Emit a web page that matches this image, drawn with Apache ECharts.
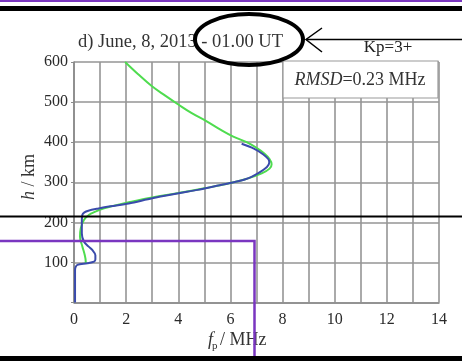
<!DOCTYPE html>
<html>
<head>
<meta charset="utf-8">
<script src="https://cdn.jsdelivr.net/npm/echarts@6/dist/echarts.min.js"></script>
<style>
  html, body { margin: 0; padding: 0; background: #fff; }
  #chart { width: 462px; height: 361px; }
</style>
</head>
<body>
<div id="chart"></div>
<script>
// Plasma frequency profiles: frequency (MHz) versus height (km)
const greenFreq = [1.96, 2.45, 2.98, 3.5, 4.0, 4.5, 5.09, 5.6, 6.11, 6.62, 7.0, 7.3, 7.5, 7.58, 7.5, 7.2, 6.6, 6.0, 5.0, 4.0, 3.0, 2.1, 1.5, 1.15, 0.8, 0.58, 0.38, 0.26, 0.23, 0.32, 0.41, 0.45, 0.44];
const greenHeight = [600, 570, 540, 516, 494, 473, 452, 432, 414, 400, 386, 372, 358, 345, 334, 322, 308, 298, 285, 273, 262, 250, 241, 235, 226, 219, 206, 185, 164, 140, 119, 102, 97];

const blueFreq = [6.43, 6.9, 7.25, 7.45, 7.49, 7.4, 7.07, 6.6, 5.98, 5.4, 4.75, 4.07, 3.0, 2.1, 1.4, 0.9, 0.55, 0.4, 0.32, 0.3, 0.3, 0.38, 0.55, 0.7, 0.82, 0.82, 0.77, 0.51, 0.13, 0.06, 0.04, 0.04];
const blueHeight = [396, 384, 370, 358, 350, 338, 323, 308, 298, 290, 281, 273, 260, 247, 240, 234, 229, 225, 219, 200, 172, 152, 140, 131, 118, 108, 102, 98, 94, 88, 80, 0];

const xTicks = [0, 2, 4, 6, 8, 10, 12, 14];
const yTicks = [100, 200, 300, 400, 500, 600];

const titleText = 'd) June, 8, 2013 - 01.00 UT';
const kpText = 'Kp=3+';
const rmsdValue = '0.23 MHz';

const SERIF = '"Liberation Serif", "DejaVu Serif", serif';
const PURPLE = '#7a36c0';

function pairs(fs, hs) { return fs.map((f, i) => [f, hs[i]]); }

const chart = echarts.init(document.getElementById('chart'), null, { renderer: 'canvas' });

const gridLine = { show: true, lineStyle: { color: '#959595', width: 1.6 } };

chart.setOption({
  backgroundColor: '#ffffff',
  animation: false,
  grid: { left: 74, top: 62, right: 23, bottom: 58.5, containLabel: false },
  xAxis: {
    type: 'value', min: 0, max: 14, interval: 1,
    axisLine: { show: true, lineStyle: { color: '#8a8a8a', width: 1.6 } },
    axisTick: { show: false },
    splitLine: gridLine,
    axisLabel: {
      margin: 9, color: '#2a2a2a', fontFamily: SERIF, fontSize: 16,
      formatter: v => (xTicks.indexOf(v) >= 0 ? String(v) : '')
    }
  },
  yAxis: {
    type: 'value', min: 0, max: 600, interval: 100,
    axisLine: { show: true, lineStyle: { color: '#8a8a8a', width: 1.6 } },
    axisTick: { show: true, length: 3, lineStyle: { color: '#8a8a8a' } },
    splitLine: gridLine,
    axisLabel: {
      margin: 6, color: '#2a2a2a', fontFamily: SERIF, fontSize: 16,
      formatter: v => (yTicks.indexOf(v) >= 0 ? String(v) : '')
    }
  },
  series: [
    {
      type: 'line', data: pairs(greenFreq, greenHeight), smooth: 0.4,
      showSymbol: false, lineStyle: { color: '#4fdc4f', width: 2 }, z: 3
    },
    {
      type: 'line', data: pairs(blueFreq, blueHeight), smooth: 0.3,
      showSymbol: false, lineStyle: { color: '#3a4bab', width: 2 }, z: 4
    }
  ],
  graphic: [
    // RMSD inset box
    { type: 'rect', shape: { x: 283, y: 61, width: 155, height: 37 },
      style: { fill: '#ffffff', stroke: '#9a9a9a', lineWidth: 1.2 }, z: 10 },
    { type: 'text', x: 360, y: 80, z: 11,
      style: { text: '{i|RMSD}=' + rmsdValue, x: 0, y: 0, align: 'center', verticalAlign: 'middle',
        font: '18px ' + SERIF, fill: '#333',
        rich: { i: { fontStyle: 'italic', fontFamily: SERIF, fontSize: 18, fill: '#333' } } } },
    // header texts
    { type: 'text', x: 78, y: 42, z: 11,
      style: { text: titleText, align: 'left', verticalAlign: 'middle', font: '18.5px ' + SERIF, fill: '#333' } },
    { type: 'text', x: 388, y: 48, z: 11,
      style: { text: kpText, align: 'center', verticalAlign: 'middle', font: '17px ' + SERIF, fill: '#222' } },
    // axis names
    { type: 'text', x: 29, y: 177, rotation: Math.PI / 2, z: 11,
      style: { text: '{i|h} / km', align: 'center', verticalAlign: 'middle', font: '18px ' + SERIF, fill: '#333',
        rich: { i: { fontStyle: 'italic', fontFamily: SERIF, fontSize: 18, fill: '#333' } } } },
    { type: 'text', x: 213, y: 340, z: 11,
      style: { text: 'f', align: 'right', verticalAlign: 'middle', font: 'italic 18px ' + SERIF, fill: '#333' } },
    { type: 'text', x: 212, y: 346, z: 11,
      style: { text: 'p', align: 'left', verticalAlign: 'middle', font: '11px ' + SERIF, fill: '#333' } },
    { type: 'text', x: 220, y: 340, z: 11,
      style: { text: '/ MHz', align: 'left', verticalAlign: 'middle', font: '18px ' + SERIF, fill: '#333' } },
    // overlay markings
    { type: 'rect', shape: { x: 0, y: 0, width: 462, height: 2 }, style: { fill: PURPLE }, z: 20 },
    { type: 'rect', shape: { x: 0, y: 6, width: 462, height: 5 }, style: { fill: '#000' }, z: 20 },
    { type: 'rect', shape: { x: 0, y: 356, width: 462, height: 5 }, style: { fill: '#000' }, z: 20 },
    { type: 'line', shape: { x1: 0, y1: 216.5, x2: 462, y2: 216.5 }, style: { stroke: '#000', lineWidth: 2 }, z: 20 },
    { type: 'polyline', shape: { points: [[0, 241], [254.5, 241], [254.5, 361]] },
      style: { stroke: PURPLE, lineWidth: 2.5, fill: null }, z: 19 },
    { type: 'ellipse', shape: { cx: 249, cy: 39.5, rx: 54, ry: 25.5 },
      style: { stroke: '#000', lineWidth: 4, fill: null }, z: 21 },
    { type: 'line', shape: { x1: 306, y1: 39.5, x2: 462, y2: 39.5 }, style: { stroke: '#000', lineWidth: 1.5 }, z: 21 },
    { type: 'polyline', shape: { points: [[322, 28], [306, 39.5], [322, 52]] },
      style: { stroke: '#000', lineWidth: 1.5, fill: null }, z: 21 }
  ]
});
</script>
</body>
</html>
